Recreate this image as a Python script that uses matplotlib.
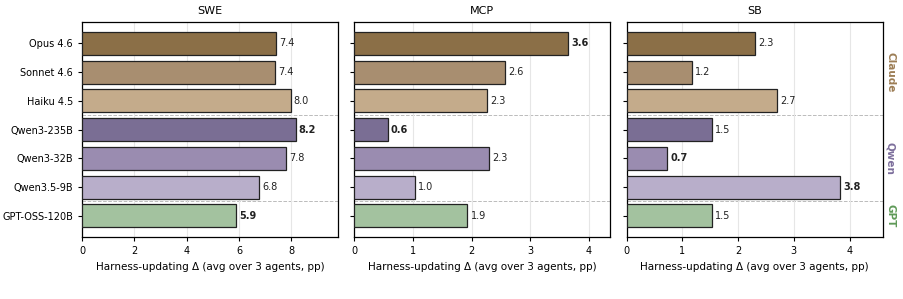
import numpy as np
import matplotlib.pyplot as plt

models = ["Opus 4.6", "Sonnet 4.6", "Haiku 4.5", "Qwen3-235B", "Qwen3-32B", "Qwen3.5-9B", "GPT-OSS-120B"]
colors = ["#8b6f47", "#a88e70", "#c4ab8b", "#7a6e94", "#9a8cb0", "#b8aeca", "#a3c29f"]
benchmarks = ["SWE", "MCP", "SB"]
swe = [7.43, 7.36, 7.97, 8.16, 7.78, 6.78, 5.90]
mcp = [3.64, 2.57, 2.27, 0.57, 2.30, 1.03, 1.93]
sb = [2.30, 1.17, 2.70, 1.53, 0.73, 3.83, 1.53]
groups = ["Claude", "Qwen", "GPT"]
group_rows = [(0, 2), (3, 5), (6, 6)]
group_colors = ["#9c7d55", "#7d6f9c", "#5f9a58"]

fig, axes = plt.subplots(1, 3, figsize=(9.04, 2.99), dpi=100, sharey=True)
fig.subplots_adjust(left=0.0907, right=0.9765, top=0.926, bottom=0.207, wspace=0.0625)

y = np.arange(len(models))
for ax, name, vals in zip(axes, benchmarks, [swe, mcp, sb]):
    vals = np.array(vals)
    ax.barh(y, vals, height=0.8, color=colors, edgecolor="#222222", linewidth=0.9, zorder=3)
    ax.set_xlim(0, vals.max() * 1.2)
    ax.invert_yaxis() if ax is axes[0] else None
    imax, imin = vals.argmax(), vals.argmin()
    for i, v in enumerate(vals):
        bold = i in (imax, imin)
        ax.text(v + vals.max() * 0.015, i, f"{v:.1f}", va="center", ha="left",
                fontsize=7, fontweight="bold" if bold else "normal", color="#222222")
    for sep in (2.5, 5.5):
        ax.axhline(sep, color="#bbbbbb", linestyle="--", linewidth=0.7, zorder=1)
    ax.grid(axis="x", color="#e6e6e6", linewidth=0.8, zorder=0)
    ax.set_title(name, fontsize=8)
    ax.set_xlabel("Harness-updating Δ (avg over 3 agents, pp)", fontsize=7.5)
    ax.tick_params(labelsize=7, length=3, width=0.8)
    for s in ax.spines.values():
        s.set_linewidth(0.9)

axes[0].set_yticks(y)
axes[0].set_yticklabels(models)

for g, (a, b), c in zip(groups, group_rows, group_colors):
    axes[2].text(1.03, (a + b) / 2, g, transform=axes[2].get_yaxis_transform(),
                 rotation=-90, ha="center", va="center", fontsize=7.5,
                 fontweight="bold", color=c)

plt.savefig("out.png")
